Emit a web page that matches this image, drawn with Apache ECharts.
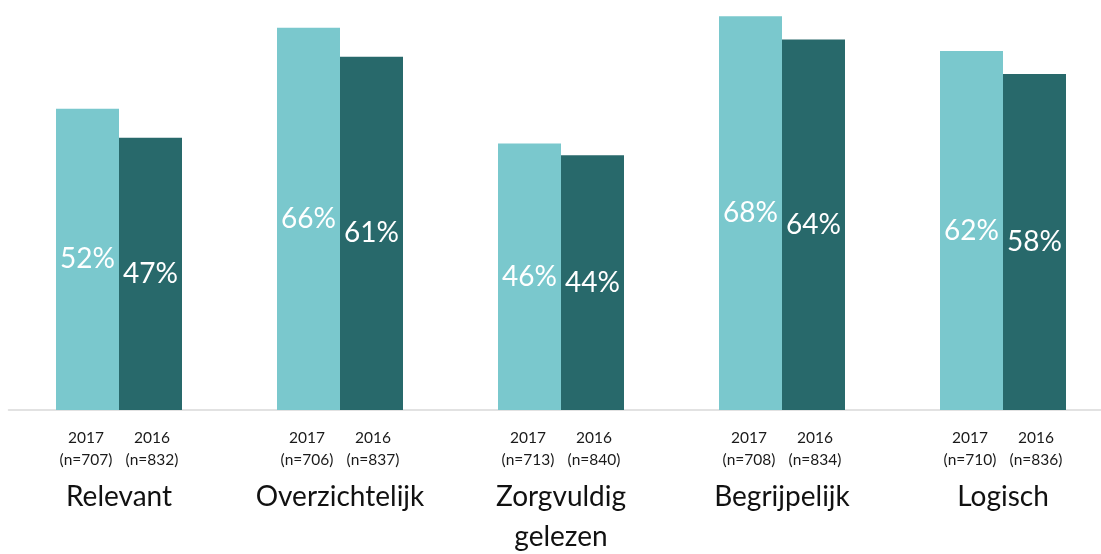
<!DOCTYPE html>
<html>
<head>
<meta charset="utf-8">
<script src="https://cdn.jsdelivr.net/npm/echarts@6/dist/echarts.min.js"></script>
<style>html,body{margin:0;padding:0;background:#fff;overflow:hidden}#c{width:1130px;height:554px}</style>
</head>
<body>
<div id="c"></div>
<script>
var categories = ['Relevant', 'Overzichtelijk', 'Zorgvuldig\ngelezen', 'Begrijpelijk', 'Logisch'];
var years = ['2017', '2016'];
var n2017 = ['707', '706', '713', '708', '710'];
var n2016 = ['832', '837', '840', '834', '836'];
var values2017 = [52, 66, 46, 68, 62];
var values2016 = [47, 61, 44, 64, 58];

var chart = echarts.init(document.getElementById('c'));
var font = 'Lato, "Noto Sans", sans-serif';
chart.setOption({
  animation: false,
  grid: { left: 8.5, top: 0, width: 1105, height: 410 },
  xAxis: {
    type: 'category',
    data: categories,
    axisLine: { lineStyle: { color: '#d9d9d9', width: 1.5 } },
    axisTick: { show: false },
    axisLabel: {
      margin: 17,
      interval: 0,
      fontFamily: font,
      formatter: function (v, i) {
        var parts = v.split('\n');
        var s = '{y|' + years[0] + '}{y|' + years[1] + '}\n' +
                '{y|(n=' + n2017[i] + ')}{y|(n=' + n2016[i] + ')}\n' +
                '{c|' + parts[0] + '}';
        if (parts[1]) s += '\n{d|' + parts[1] + '}';
        return s;
      },
      rich: {
        y: { width: 66, align: 'center', fontSize: 15.5, lineHeight: 22, color: '#1a1a1a', fontFamily: font },
        c: { fontSize: 28, lineHeight: 52, color: '#111', fontFamily: font },
        d: { fontSize: 28, lineHeight: 28, color: '#111', fontFamily: font }
      }
    }
  },
  yAxis: {
    type: 'value', min: 0, max: 70.8,
    show: false, splitLine: { show: false }
  },
  series: [
    {
      name: years[0], type: 'bar', data: values2017, barWidth: 63, barGap: '0%',
      itemStyle: { color: '#7AC8CD' },
      label: { show: true, position: 'inside', formatter: '{c}%', color: '#fff', fontSize: 28, fontFamily: font }
    },
    {
      name: years[1], type: 'bar', data: values2016, barWidth: 63,
      itemStyle: { color: '#28696B' },
      label: { show: true, position: 'inside', formatter: '{c}%', color: '#fff', fontSize: 28, fontFamily: font }
    }
  ]
});
</script>
</body>
</html>
